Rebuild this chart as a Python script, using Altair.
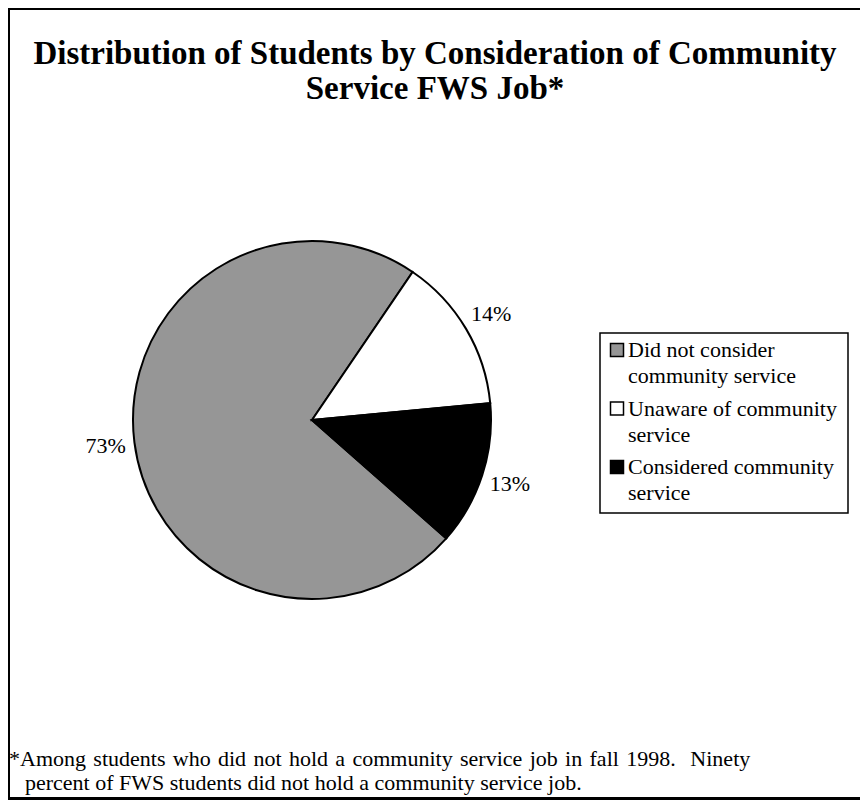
import math
import altair as alt
import pandas as pd

# ---- data ----
categories = [
    "Did not consider community service",
    "Unaware of community service",
    "Considered community service",
]
values = [73, 14, 13]
pct_labels = ["73%", "14%", "13%"]
legend_text = [
    "Did not consider\ncommunity service",
    "Unaware of community\nservice",
    "Considered community\nservice",
]
colors = ["#969696", "#ffffff", "#000000"]
title_lines = [
    "Distribution of Students by Consideration of Community",
    "Service FWS Job*",
]
footnote_lines = [
    "*Among students who did not hold a community service job in fall 1998.  Ninety",
    "percent of FWS students did not hold a community service job.",
]

# ---- layout ----
SERIF = "Liberation Serif"
W, H = 852, 793
CX, CY, R = 304, 412, 179
START = math.radians(131.4)

df = pd.DataFrame({
    "category": categories,
    "value": values,
    "label": pct_labels,
    "legend": legend_text,
    "order": list(range(len(categories))),
})
one = pd.DataFrame({"_": [0]})

theta = alt.Theta("value:Q", stack=True,
                  scale=alt.Scale(range=[START, START + 2 * math.pi]))
order = alt.Order("order:Q")
color_scale = alt.Scale(domain=categories, range=colors)
leg_y = alt.Y("category:N", axis=None,
              scale=alt.Scale(type="point", domain=categories,
                              range=[349, 466], padding=0))

# frame: left, top and bottom edges (right edge lies outside the picture)
left_edge = alt.Chart(one).mark_rule(stroke="black", strokeWidth=3).encode(
    x=alt.value(0.5), y=alt.value(-1), y2=alt.value(792))
top_edge = alt.Chart(one).mark_rule(stroke="black", strokeWidth=3).encode(
    x=alt.value(-1), x2=alt.value(W + 10), y=alt.value(0.5))
bottom_edge = alt.Chart(one).mark_rule(stroke="black", strokeWidth=3).encode(
    x=alt.value(-1), x2=alt.value(W + 10), y=alt.value(790.5))

title = alt.Chart(one).mark_text(
    font=SERIF, fontSize=33, fontWeight="bold", align="center",
    baseline="alphabetic", lineBreak="\n", lineHeight=35, color="black"
).encode(x=alt.value(427), y=alt.value(56), text=alt.value("\n".join(title_lines)))

pie = alt.Chart(df).mark_arc(outerRadius=R, stroke="black", strokeWidth=2).encode(
    theta=theta, order=order,
    color=alt.Color("category:N", scale=color_scale, legend=None),
    x=alt.value(CX), y=alt.value(CY))

labels = alt.Chart(df).mark_text(radius=208, font=SERIF, fontSize=22, color="black").encode(
    theta=theta, order=order, text="label:N", x=alt.value(CX), y=alt.value(CY))

legend_box = alt.Chart(one).mark_rect(fill="white", stroke="black", strokeWidth=1.5).encode(
    x=alt.value(592), x2=alt.value(840), y=alt.value(325), y2=alt.value(505))

swatches = alt.Chart(df).mark_square(size=169, stroke="black", strokeWidth=1.5, opacity=1).encode(
    x=alt.value(609), y=leg_y, yOffset=alt.value(-7),
    fill=alt.Fill("category:N", scale=color_scale, legend=None))

legend_labels = alt.Chart(df).mark_text(
    font=SERIF, fontSize=22, align="left", baseline="alphabetic",
    lineBreak="\n", lineHeight=26, color="black"
).encode(x=alt.value(620), y=leg_y, text="legend:N")

# first footnote line is justified in the original: use wider spaces
foot1_text = footnote_lines[0].replace(" ", "\u2004")
foot1 = alt.Chart(one).mark_text(
    font=SERIF, fontSize=22, align="left", baseline="alphabetic", color="black"
).encode(x=alt.value(1), y=alt.value(758), text=alt.value(foot1_text))

foot2 = alt.Chart(one).mark_text(
    font=SERIF, fontSize=22, align="left", baseline="alphabetic", color="black"
).encode(x=alt.value(17), y=alt.value(782), text=alt.value(footnote_lines[1]))

chart = alt.layer(
    left_edge, top_edge, bottom_edge, title, pie, labels,
    legend_box, swatches, legend_labels, foot1, foot2
).properties(
    width=W, height=H, padding=0, autosize=alt.AutoSizeParams(type="none"),
    background="white"
).configure_view(stroke="white", strokeWidth=4, fill="white")

chart.save("out.html", embed_options={"renderer": "svg", "actions": False})
